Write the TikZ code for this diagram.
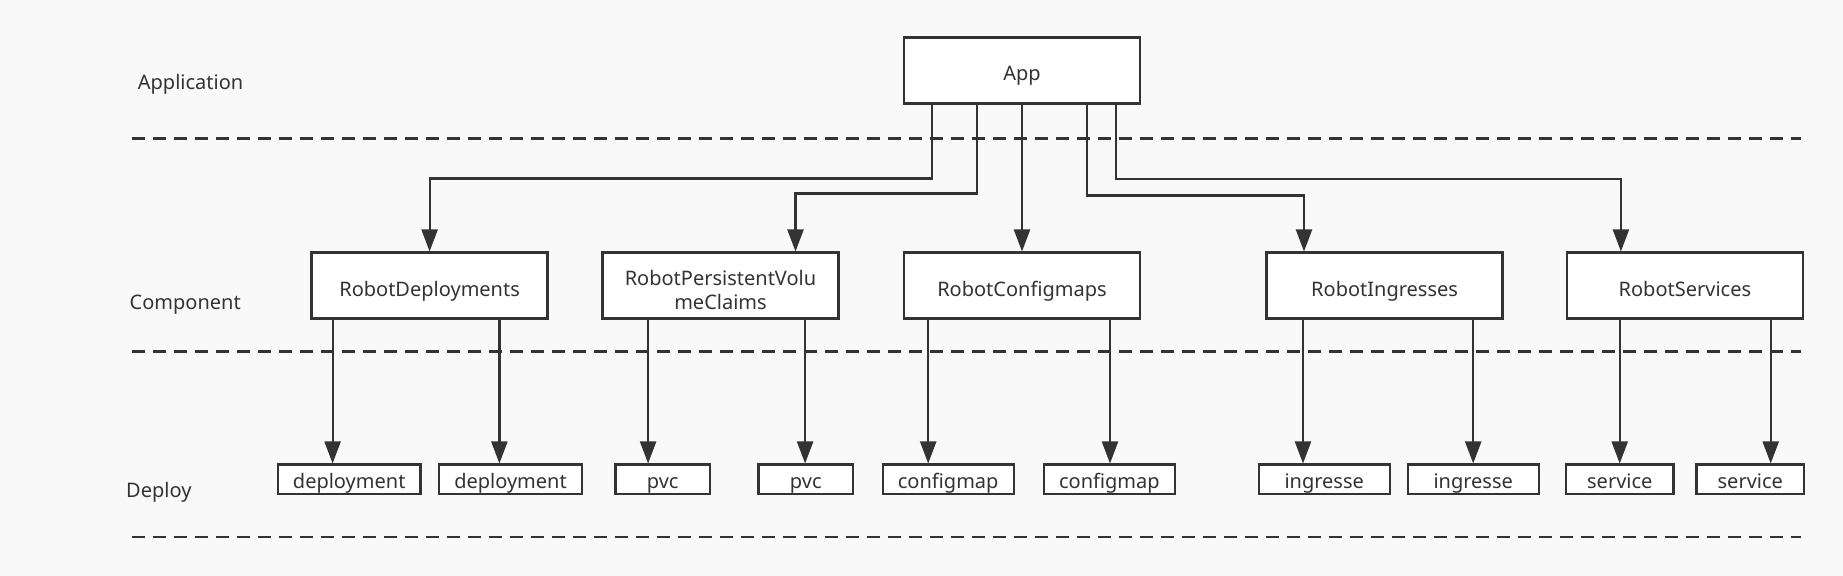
\documentclass[tikz,border=0pt]{standalone}
\usepackage{fontspec}
\setmainfont{Noto Sans}
\usetikzlibrary{arrows.meta,positioning}
\definecolor{Ink}{HTML}{333333}
\definecolor{Paper}{HTML}{F9F9F9}

\begin{document}
\begin{tikzpicture}[x=0.5pt,y=-0.5pt,
    comp/.style={draw=Ink,line width=1.4pt,fill=white,minimum width=118pt,minimum height=32.7pt,align=center,inner sep=2pt,text height=11.4pt,text depth=0.9pt,font=\fontsize{10}{11.75}\selectfont,text=Ink},
    dep/.style={draw=Ink,line width=1.2pt,fill=white,minimum height=14.8pt,inner sep=1pt,text height=9.9pt,text depth=0.9pt,font=\fontsize{10}{12}\selectfont,text=Ink},
    a/.style={-{Triangle[length=11pt,width=8pt]},line width=1.1pt,draw=Ink},
    sep/.style={draw=Ink,line width=1.2pt,dash pattern=on 6.5pt off 4pt},
    lab/.style={anchor=west,inner sep=0pt,font=\fontsize{10}{12}\selectfont,text=Ink}]
    \fill[Paper] (0,0) rectangle (1843,576);
    % layers
    \draw[sep] (131.6,138.7) -- (1800.7,138.7);
    \draw[sep] (131.6,351.4) -- (1800.7,351.4);
    \draw[sep] (131.6,537.2) -- (1800.7,537.2);
    \node[lab] (lapp) at (137.5,84.5) {Application};
    \node[lab] (lcomp) at (129.3,304.5) {Component};
    \node[lab] (ldep) at (125.8,492.5) {Deploy};
    % nodes
    \node[comp] (app) at (1022,70.5) {App};
    \node[comp] (rd) at (429.6,285.6) {RobotDeployments};
    \node[comp,text height=23.6pt,text depth=0pt] (rp) at (720.5,285.6) {RobotPersistentVolu\\meClaims};
    \node[comp] (rc) at (1022,285.6) {RobotConfigmaps};
    \node[comp] (ri) at (1384.6,285.6) {RobotIngresses};
    \node[comp] (rs) at (1684.9,285.6) {RobotServices};
    \node[dep,minimum width=71.3pt] (d1) at (349.2,479.5) {deployment};
    \node[dep,minimum width=71.3pt] (d2) at (510.5,479.5) {deployment};
    \node[dep,minimum width=47.3pt] (p1) at (662.7,479.5) {pvc};
    \node[dep,minimum width=47.3pt] (p2) at (805.8,479.5) {pvc};
    \node[dep,minimum width=65.5pt] (c1) at (948.2,479.5) {configmap};
    \node[dep,minimum width=65.5pt] (c2) at (1109.4,479.5) {configmap};
    \node[dep,minimum width=65.5pt] (i1) at (1324.2,479.5) {ingresse};
    \node[dep,minimum width=65.5pt] (i2) at (1473.2,479.5) {ingresse};
    \node[dep,minimum width=53.8pt] (s1) at (1619.8,479.5) {service};
    \node[dep,minimum width=53.8pt] (s2) at (1750.3,479.5) {service};
    % app to components
    \draw[a] ([xshift=-45.2pt]app.south) -- ++(0,-37pt) -| (rd.north);
    \draw[a] ([xshift=-22.6pt]app.south) -- ++(0,-44.5pt) -| ([xshift=37.5pt]rp.north);
    \draw[a] (app.south) -- (rc.north);
    \draw[a] ([xshift=32.6pt]app.south) -- ++(0,-45.5pt) -| ([xshift=-40.3pt]ri.north);
    \draw[a] ([xshift=46.8pt]app.south) -- ++(0,-37.3pt) -| ([xshift=-32pt]rs.north);
    % components to deploys
    \draw[a] ([xshift=-48.5pt]rd.south) -- ([xshift=-48.5pt]rd.south |- d1.north);
    \draw[a] ([xshift=34.9pt]rd.south) -- ([xshift=34.9pt]rd.south |- d2.north);
    \draw[a] ([xshift=-36.2pt]rp.south) -- ([xshift=-36.2pt]rp.south |- p1.north);
    \draw[a] ([xshift=42.3pt]rp.south) -- ([xshift=42.3pt]rp.south |- p2.north);
    \draw[a] ([xshift=-46.9pt]rc.south) -- ([xshift=-46.9pt]rc.south |- c1.north);
    \draw[a] ([xshift=44pt]rc.south) -- ([xshift=44pt]rc.south |- c2.north);
    \draw[a] ([xshift=-40.8pt]ri.south) -- ([xshift=-40.8pt]ri.south |- i1.north);
    \draw[a] ([xshift=44.3pt]ri.south) -- ([xshift=44.3pt]ri.south |- i2.north);
    \draw[a] ([xshift=-32.6pt]rs.south) -- ([xshift=-32.6pt]rs.south |- s1.north);
    \draw[a] ([xshift=42.9pt]rs.south) -- ([xshift=42.9pt]rs.south |- s2.north);
\end{tikzpicture}
\end{document}
